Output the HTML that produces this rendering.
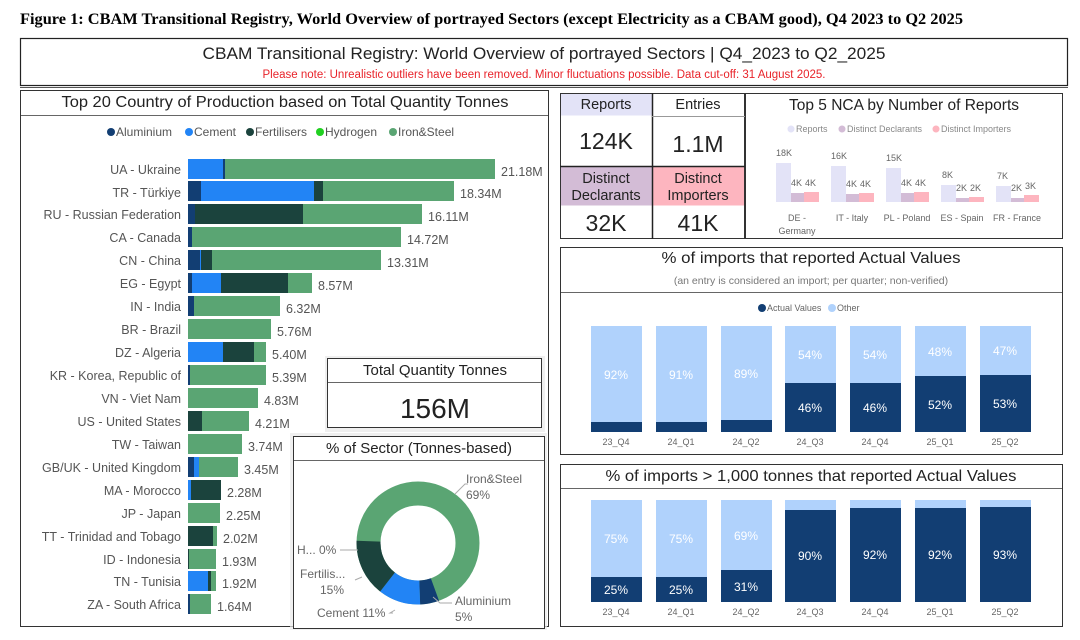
<!DOCTYPE html>
<html><head><meta charset="utf-8"><style>
html,body{margin:0;padding:0;background:#fff;}
svg{display:block;font-family:"Liberation Sans",sans-serif;}
</style></head><body>
<svg width="1080" height="640" viewBox="0 0 1080 640" xmlns="http://www.w3.org/2000/svg">
<rect width="1080" height="640" fill="#fff"/>
<text x="20" y="24" font-family="Liberation Serif" font-weight="bold" font-size="15.5" fill="#000" textLength="943" lengthAdjust="spacingAndGlyphs">Figure 1: CBAM Transitional Registry, World Overview of portrayed Sectors (except Electricity as a CBAM good), Q4 2023 to Q2 2025</text>
<!-- header -->
<rect x="20.5" y="38.5" width="1047" height="47" fill="#fff" stroke="#222" stroke-width="1.2"/>
<line x1="20" y1="87.5" x2="1068" y2="87.5" stroke="#555" stroke-width="1"/>
<text x="544" y="59" text-anchor="middle" font-size="17" fill="#222" textLength="683" lengthAdjust="spacingAndGlyphs">CBAM Transitional Registry: World Overview of portrayed Sectors | Q4_2023 to Q2_2025</text>
<text x="544" y="78" text-anchor="middle" font-size="11.5" fill="#e8232a">Please note: Unrealistic outliers have been removed. Minor fluctuations possible. Data cut-off: 31 August 2025.</text>

<!-- left panel -->
<rect x="20.5" y="90.5" width="528" height="536" fill="#fff" stroke="#333" stroke-width="1"/>
<line x1="21" y1="115.5" x2="548" y2="115.5" stroke="#666"/>
<text x="285" y="107" text-anchor="middle" font-size="16" fill="#222" textLength="447" lengthAdjust="spacingAndGlyphs">Top 20 Country of Production based on Total Quantity Tonnes</text>
<g font-size="12" fill="#555">
<circle cx="111" cy="132" r="4" fill="#123e73"/><text x="116" y="136">Aluminium</text>
<circle cx="189" cy="132" r="4" fill="#2284f5"/><text x="194" y="136">Cement</text>
<circle cx="250" cy="132" r="4" fill="#1b433d"/><text x="255" y="136">Fertilisers</text>
<circle cx="320" cy="132" r="4" fill="#21d021"/><text x="325" y="136">Hydrogen</text>
<circle cx="393" cy="132" r="4" fill="#5aa573"/><text x="398" y="136">Iron&amp;Steel</text>
</g>
<g font-size="12.5" fill="#555" text-anchor="end">
<text x="181" y="174">UA - Ukraine</text>
<text x="181" y="197">TR - Türkiye</text>
<text x="181" y="219">RU - Russian Federation</text>
<text x="181" y="242">CA - Canada</text>
<text x="181" y="265">CN - China</text>
<text x="181" y="288">EG - Egypt</text>
<text x="181" y="311">IN - India</text>
<text x="181" y="334">BR - Brazil</text>
<text x="181" y="357">DZ - Algeria</text>
<text x="181" y="380">KR - Korea, Republic of</text>
<text x="181" y="403">VN - Viet Nam</text>
<text x="181" y="426">US - United States</text>
<text x="181" y="449">TW - Taiwan</text>
<text x="181" y="472">GB/UK - United Kingdom</text>
<text x="181" y="495">MA - Morocco</text>
<text x="181" y="518">JP - Japan</text>
<text x="181" y="541">TT - Trinidad and Tobago</text>
<text x="181" y="564">ID - Indonesia</text>
<text x="181" y="586">TN - Tunisia</text>
<text x="181" y="609">ZA - South Africa</text>
</g>
<g>
<rect x="188" y="159" width="35" height="20" fill="#2284f5"/><rect x="223" y="159" width="2" height="20" fill="#123e73"/><rect x="225" y="159" width="270" height="20" fill="#5aa573"/>
<rect x="188" y="181" width="13" height="20" fill="#123e73"/><rect x="201" y="181" width="113" height="20" fill="#2284f5"/><rect x="314" y="181" width="9" height="20" fill="#1b433d"/><rect x="323" y="181" width="131" height="20" fill="#5aa573"/>
<rect x="188" y="204" width="7" height="20" fill="#123e73"/><rect x="195" y="204" width="108" height="20" fill="#1b433d"/><rect x="303" y="204" width="119" height="20" fill="#5aa573"/>
<rect x="188" y="227" width="4" height="20" fill="#123e73"/><rect x="192" y="227" width="209" height="20" fill="#5aa573"/>
<rect x="188" y="250" width="12" height="20" fill="#123e73"/><rect x="200" y="250" width="1" height="20" fill="#2284f5"/><rect x="201" y="250" width="11" height="20" fill="#1b433d"/><rect x="212" y="250" width="169" height="20" fill="#5aa573"/>
<rect x="188" y="273" width="4" height="20" fill="#123e73"/><rect x="192" y="273" width="29" height="20" fill="#2284f5"/><rect x="221" y="273" width="67" height="20" fill="#1b433d"/><rect x="288" y="273" width="24" height="20" fill="#5aa573"/>
<rect x="188" y="296" width="6" height="20" fill="#123e73"/><rect x="194" y="296" width="86" height="20" fill="#5aa573"/>
<rect x="188" y="319" width="83" height="20" fill="#5aa573"/>
<rect x="188" y="342" width="35" height="20" fill="#2284f5"/><rect x="223" y="342" width="31" height="20" fill="#1b433d"/><rect x="254" y="342" width="12" height="20" fill="#5aa573"/>
<rect x="188" y="365" width="2" height="20" fill="#123e73"/><rect x="190" y="365" width="76" height="20" fill="#5aa573"/>
<rect x="188" y="388" width="70" height="20" fill="#5aa573"/>
<rect x="188" y="411" width="14" height="20" fill="#1b433d"/><rect x="202" y="411" width="47" height="20" fill="#5aa573"/>
<rect x="188" y="434" width="54" height="20" fill="#5aa573"/>
<rect x="188" y="457" width="6" height="20" fill="#123e73"/><rect x="194" y="457" width="5" height="20" fill="#2284f5"/><rect x="199" y="457" width="39" height="20" fill="#5aa573"/>
<rect x="188" y="480" width="3" height="20" fill="#2284f5"/><rect x="191" y="480" width="30" height="20" fill="#1b433d"/>
<rect x="188" y="503" width="32" height="20" fill="#5aa573"/>
<rect x="188" y="526" width="25" height="20" fill="#1b433d"/><rect x="213" y="526" width="4" height="20" fill="#5aa573"/>
<rect x="188" y="549" width="1" height="20" fill="#1b433d"/><rect x="189" y="549" width="27" height="20" fill="#5aa573"/>
<rect x="188" y="571" width="20" height="20" fill="#2284f5"/><rect x="208" y="571" width="3" height="20" fill="#1b433d"/><rect x="211" y="571" width="5" height="20" fill="#5aa573"/>
<rect x="188" y="594" width="2" height="20" fill="#123e73"/><rect x="190" y="594" width="21" height="20" fill="#5aa573"/>
</g>
<g font-size="12.5" fill="#555">
<text x="501" y="176">21.18M</text>
<text x="460" y="198">18.34M</text>
<text x="428" y="221">16.11M</text>
<text x="407" y="244">14.72M</text>
<text x="387" y="267">13.31M</text>
<text x="318" y="290">8.57M</text>
<text x="286" y="313">6.32M</text>
<text x="277" y="336">5.76M</text>
<text x="272" y="359">5.40M</text>
<text x="272" y="382">5.39M</text>
<text x="264" y="405">4.83M</text>
<text x="255" y="428">4.21M</text>
<text x="248" y="451">3.74M</text>
<text x="244" y="474">3.45M</text>
<text x="227" y="497">2.28M</text>
<text x="226" y="520">2.25M</text>
<text x="223" y="543">2.02M</text>
<text x="222" y="566">1.93M</text>
<text x="222" y="588">1.92M</text>
<text x="217" y="611">1.64M</text>
</g>

<!-- Total quantity -->
<rect x="325" y="356" width="220" height="76" fill="#e8e8e8" opacity="0.7"/>
<rect x="327.5" y="358.5" width="214" height="69" fill="#fff" stroke="#333"/>
<line x1="328" y1="382.5" x2="541" y2="382.5" stroke="#666"/>
<text x="435" y="375" text-anchor="middle" font-size="15" fill="#222">Total Quantity Tonnes</text>
<text x="435" y="418" text-anchor="middle" font-size="28" fill="#222">156M</text>

<!-- sector donut -->
<rect x="290" y="433" width="257" height="197" fill="#e8e8e8" opacity="0.7"/>
<rect x="293.5" y="436.5" width="251" height="192" fill="#fff" stroke="#333"/>
<line x1="294" y1="460.5" x2="544" y2="460.5" stroke="#666"/>
<text x="419" y="453" text-anchor="middle" font-size="15" fill="#222">% of Sector (Tonnes-based)</text>
<g transform="translate(418,543)">
<circle r="49.5" fill="none" stroke="#5aa573" stroke-width="24"/>
<circle r="49.5" fill="none" stroke="#123e73" stroke-width="24" stroke-dasharray="15.6 400" transform="rotate(70)"/>
<circle r="49.5" fill="none" stroke="#2284f5" stroke-width="24" stroke-dasharray="34.6 400" transform="rotate(88)"/>
<circle r="49.5" fill="none" stroke="#1b433d" stroke-width="24" stroke-dasharray="46.6 400" transform="rotate(128)"/>
</g>
<g font-size="12" fill="#666" stroke="none">
<polyline points="455,494 465,484 468,484" fill="none" stroke="#aaa"/>
<text x="466" y="483">Iron&amp;Steel</text><text x="466" y="499">69%</text>
<polyline points="433,597 440,603 452,603" fill="none" stroke="#aaa"/>
<text x="455" y="605">Aluminium</text><text x="455" y="621">5%</text>
<polyline points="395,610 390,613 393,613" fill="none" stroke="#aaa"/>
<text x="317" y="617">Cement 11%</text>
<polyline points="362,577 355,580" fill="none" stroke="#aaa"/>
<text x="300" y="578">Fertilis...</text><text x="320" y="594">15%</text>
<line x1="340" y1="550" x2="358" y2="550" stroke="#aaa"/>
<text x="297" y="554">H... 0%</text>
</g>

<!-- KPI boxes -->
<rect x="560.5" y="93.5" width="92" height="22" fill="#e3e3f7"/>
<rect x="560.5" y="166.5" width="92" height="39" fill="#d3bcd6"/>
<rect x="652.5" y="166.5" width="92" height="39" fill="#fdb5bf"/>
<rect x="560.5" y="93.5" width="184" height="145" fill="none" stroke="#333"/>
<line x1="652.5" y1="93" x2="652.5" y2="239" stroke="#222" stroke-width="1.5"/>
<line x1="560" y1="166.5" x2="745" y2="166.5" stroke="#222" stroke-width="1.5"/>
<line x1="652" y1="116.5" x2="745" y2="116.5" stroke="#999"/>
<g font-size="14.5" fill="#222" text-anchor="middle">
<text x="606" y="109">Reports</text><text x="698" y="109">Entries</text>
<text x="606" y="183">Distinct</text><text x="606" y="200">Declarants</text>
<text x="698" y="183">Distinct</text><text x="698" y="200">Importers</text>
</g>
<g font-size="23" fill="#222" text-anchor="middle">
<text x="606" y="149">124K</text><text x="698" y="152">1.1M</text>
<text x="606" y="231">32K</text><text x="698" y="231">41K</text>
</g>

<!-- Top 5 NCA -->
<rect x="745.5" y="93.5" width="317" height="145" fill="#fff" stroke="#333"/>
<text x="904" y="110" text-anchor="middle" font-size="15.5" fill="#222">Top 5 NCA by Number of Reports</text>
<g font-size="9" fill="#888">
<circle cx="791" cy="129" r="3.5" fill="#e3e3f7"/><text x="796" y="132">Reports</text>
<circle cx="842" cy="129" r="3.5" fill="#d3bcd6"/><text x="847" y="132">Distinct Declarants</text>
<circle cx="936" cy="129" r="3.5" fill="#fdb5bf"/><text x="941" y="132">Distinct Importers</text>
</g>
<g>
<rect x="776" y="163" width="15" height="39" fill="#e3e3f7"/><rect x="791" y="193" width="13" height="9" fill="#d3bcd6"/><rect x="804" y="192" width="15" height="10" fill="#fdb5bf"/>
<rect x="831" y="166" width="15" height="36" fill="#e3e3f7"/><rect x="846" y="194" width="13" height="8" fill="#d3bcd6"/><rect x="859" y="193" width="15" height="9" fill="#fdb5bf"/>
<rect x="886" y="168" width="15" height="34" fill="#e3e3f7"/><rect x="901" y="193" width="13" height="9" fill="#d3bcd6"/><rect x="914" y="192" width="15" height="10" fill="#fdb5bf"/>
<rect x="941" y="185" width="15" height="17" fill="#e3e3f7"/><rect x="956" y="198" width="13" height="4" fill="#d3bcd6"/><rect x="969" y="197" width="15" height="5" fill="#fdb5bf"/>
<rect x="996" y="186" width="15" height="16" fill="#e3e3f7"/><rect x="1011" y="198" width="13" height="4" fill="#d3bcd6"/><rect x="1024" y="195" width="15" height="7" fill="#fdb5bf"/>
</g>
<g font-size="9" fill="#666">
<text x="776" y="156">18K</text><text x="791" y="186">4K</text><text x="805" y="186">4K</text>
<text x="831" y="159">16K</text><text x="846" y="187">4K</text><text x="860" y="187">4K</text>
<text x="886" y="161">15K</text><text x="901" y="186">4K</text><text x="915" y="186">4K</text>
<text x="942" y="178">8K</text><text x="956" y="191">2K</text><text x="970" y="191">2K</text>
<text x="997" y="179">7K</text><text x="1011" y="191">2K</text><text x="1025" y="189">3K</text>
</g>
<g font-size="9" fill="#666" text-anchor="middle">
<text x="797" y="221">DE -</text><text x="797" y="234">Germany</text>
<text x="852" y="221">IT - Italy</text>
<text x="907" y="221">PL - Poland</text>
<text x="962" y="221">ES - Spain</text>
<text x="1017" y="221">FR - France</text>
</g>

<!-- chart 2 -->
<rect x="560.5" y="247.5" width="502" height="207" fill="#fff" stroke="#333"/>
<line x1="561" y1="292.5" x2="1062" y2="292.5" stroke="#666"/>
<text x="811" y="263" text-anchor="middle" font-size="16" fill="#222" textLength="299" lengthAdjust="spacingAndGlyphs">% of imports that reported Actual Values</text>
<text x="811" y="284" text-anchor="middle" font-size="10.5" fill="#777">(an entry is considered an import; per quarter; non-verified)</text>
<g font-size="9" fill="#666">
<circle cx="762" cy="308" r="4" fill="#123e73"/><text x="767" y="311">Actual Values</text>
<circle cx="832" cy="308" r="4" fill="#b0d2fc"/><text x="837" y="311">Other</text>
</g>
<g>
<rect x="591" y="326" width="51" height="106" fill="#b0d2fc"/><rect x="591" y="422" width="51" height="10" fill="#123e73"/>
<rect x="656" y="326" width="51" height="106" fill="#b0d2fc"/><rect x="656" y="422" width="51" height="10" fill="#123e73"/>
<rect x="721" y="326" width="51" height="106" fill="#b0d2fc"/><rect x="721" y="420" width="51" height="12" fill="#123e73"/>
<rect x="785" y="326" width="51" height="106" fill="#b0d2fc"/><rect x="785" y="383" width="51" height="49" fill="#123e73"/>
<rect x="850" y="326" width="51" height="106" fill="#b0d2fc"/><rect x="850" y="383" width="51" height="49" fill="#123e73"/>
<rect x="915" y="326" width="51" height="106" fill="#b0d2fc"/><rect x="915" y="376" width="51" height="56" fill="#123e73"/>
<rect x="980" y="326" width="51" height="106" fill="#b0d2fc"/><rect x="980" y="375" width="51" height="57" fill="#123e73"/>
</g>
<g font-size="12" fill="#fff" text-anchor="middle">
<text x="616" y="379">92%</text><text x="681" y="379">91%</text><text x="746" y="378">89%</text>
<text x="810" y="359">54%</text><text x="875" y="359">54%</text><text x="940" y="356">48%</text><text x="1005" y="355">47%</text>
<text x="810" y="412">46%</text><text x="875" y="412">46%</text><text x="940" y="409">52%</text><text x="1005" y="408">53%</text>
</g>
<g font-size="9" fill="#666" text-anchor="middle">
<text x="616" y="445">23_Q4</text><text x="681" y="445">24_Q1</text><text x="746" y="445">24_Q2</text><text x="810" y="445">24_Q3</text><text x="875" y="445">24_Q4</text><text x="940" y="445">25_Q1</text><text x="1005" y="445">25_Q2</text>
</g>

<!-- chart 3 -->
<rect x="560.5" y="464.5" width="502" height="162" fill="#fff" stroke="#333"/>
<line x1="561" y1="488.5" x2="1062" y2="488.5" stroke="#666"/>
<text x="811" y="481" text-anchor="middle" font-size="16" fill="#222" textLength="411" lengthAdjust="spacingAndGlyphs">% of imports &gt; 1,000 tonnes that reported Actual Values</text>
<g>
<rect x="591" y="500" width="51" height="102" fill="#b0d2fc"/><rect x="591" y="577" width="51" height="25" fill="#123e73"/>
<rect x="656" y="500" width="51" height="102" fill="#b0d2fc"/><rect x="656" y="577" width="51" height="25" fill="#123e73"/>
<rect x="721" y="500" width="51" height="102" fill="#b0d2fc"/><rect x="721" y="570" width="51" height="32" fill="#123e73"/>
<rect x="785" y="500" width="51" height="102" fill="#b0d2fc"/><rect x="785" y="510" width="51" height="92" fill="#123e73"/>
<rect x="850" y="500" width="51" height="102" fill="#b0d2fc"/><rect x="850" y="508" width="51" height="94" fill="#123e73"/>
<rect x="915" y="500" width="51" height="102" fill="#b0d2fc"/><rect x="915" y="508" width="51" height="94" fill="#123e73"/>
<rect x="980" y="500" width="51" height="102" fill="#b0d2fc"/><rect x="980" y="507" width="51" height="95" fill="#123e73"/>
</g>
<g font-size="12" fill="#fff" text-anchor="middle">
<text x="616" y="543">75%</text><text x="681" y="543">75%</text><text x="746" y="540">69%</text>
<text x="616" y="594">25%</text><text x="681" y="594">25%</text><text x="746" y="591">31%</text>
<text x="810" y="560">90%</text><text x="875" y="559">92%</text><text x="940" y="559">92%</text><text x="1005" y="559">93%</text>
</g>
<g font-size="9" fill="#666" text-anchor="middle">
<text x="616" y="615">23_Q4</text><text x="681" y="615">24_Q1</text><text x="746" y="615">24_Q2</text><text x="810" y="615">24_Q3</text><text x="875" y="615">24_Q4</text><text x="940" y="615">25_Q1</text><text x="1005" y="615">25_Q2</text>
</g>
</svg>
</body></html>
